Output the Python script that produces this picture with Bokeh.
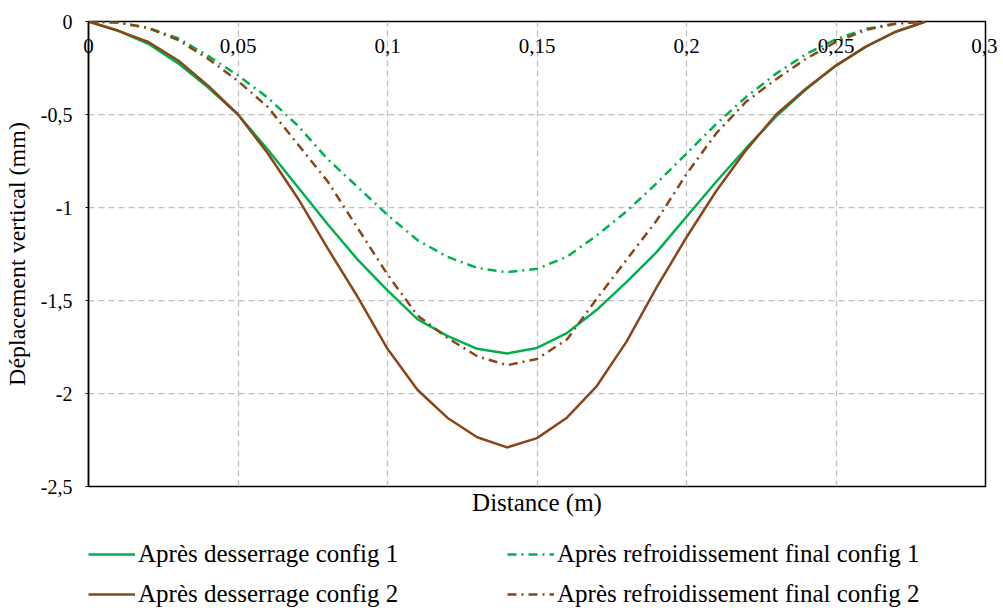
from bokeh.plotting import figure
from bokeh.layouts import column
from bokeh.models import (FixedTicker, LinearAxis, Legend, LegendItem)
from bokeh.embed import file_html
from bokeh.resources import INLINE

# ---- data ----
distance = [0, 0.01, 0.02, 0.03, 0.04, 0.05, 0.06, 0.07, 0.08, 0.09, 0.10,
            0.11, 0.12, 0.13, 0.14, 0.15, 0.16, 0.17, 0.18, 0.19, 0.20,
            0.21, 0.22, 0.23, 0.24, 0.25, 0.26, 0.27, 0.28]

desserrage_c1 = [0, -0.05, -0.12, -0.225, -0.355, -0.50, -0.69, -0.89, -1.09, -1.28, -1.446,
                 -1.60, -1.69, -1.76, -1.785, -1.755, -1.675, -1.55, -1.40, -1.24, -1.05,
                 -0.86, -0.68, -0.51, -0.365, -0.237, -0.135, -0.055, 0]
desserrage_c2 = [0, -0.05, -0.11, -0.21, -0.345, -0.50, -0.71, -0.95, -1.22, -1.48, -1.76,
                 -1.98, -2.13, -2.235, -2.29, -2.24, -2.13, -1.96, -1.72, -1.43, -1.16,
                 -0.91, -0.69, -0.50, -0.36, -0.237, -0.135, -0.055, 0]
refroid_c1 = [0, -0.005, -0.035, -0.09, -0.185, -0.29, -0.41, -0.56, -0.74, -0.89, -1.04,
              -1.175, -1.265, -1.325, -1.348, -1.33, -1.265, -1.15, -1.02, -0.87, -0.71,
              -0.55, -0.405, -0.28, -0.175, -0.095, -0.04, -0.01, 0]
refroid_c2 = [0, -0.005, -0.035, -0.10, -0.20, -0.32, -0.46, -0.66, -0.86, -1.11, -1.36,
              -1.58, -1.70, -1.80, -1.848, -1.814, -1.71, -1.49, -1.28, -1.07, -0.82,
              -0.60, -0.43, -0.31, -0.20, -0.11, -0.045, -0.012, 0]

x_ticks = [0, 0.05, 0.1, 0.15, 0.2, 0.25, 0.3]
x_tick_labels = ["0", "0,05", "0,1", "0,15", "0,2", "0,25", "0,3"]
y_ticks = [0, -0.5, -1, -1.5, -2, -2.5]
y_tick_labels = ["0", "-0,5", "-1", "-1,5", "-2", "-2,5"]

labels = ["Après desserrage config 1", "Après refroidissement final config 1",
          "Après desserrage config 2", "Après refroidissement final config 2"]
series = [desserrage_c1, refroid_c1, desserrage_c2, refroid_c2]

GREEN = "#00B050"
BROWN = "#8A4519"
FONT = "Liberation Serif"
styles = [dict(line_color=GREEN, line_width=2.5),
          dict(line_color=GREEN, line_width=2.5, line_dash="9 5 2 5"),
          dict(line_color=BROWN, line_width=2.5),
          dict(line_color=BROWN, line_width=2.5, line_dash="9 5 2 5")]

p = figure(frame_width=897, frame_height=465, output_backend="svg", toolbar_location=None,
           x_range=(0, 0.3), y_range=(-2.5, 0),
           min_border_left=77, min_border_right=12, min_border_top=21,
           min_border_bottom=40)
p.background_fill_color = "white"
p.border_fill_color = "white"
p.outline_line_color = "black"
p.outline_line_width = 1.5

# grids
p.xgrid.ticker = FixedTicker(ticks=x_ticks)
p.ygrid.ticker = FixedTicker(ticks=y_ticks)
for g in (p.xgrid[0], p.ygrid[0]):
    g.grid_line_color = "#BFBFBF"
    g.grid_line_dash = "6 4"
    g.grid_line_width = 1.25

# y axis
p.yaxis.ticker = FixedTicker(ticks=y_ticks)
p.yaxis.major_label_overrides = {t: l for t, l in zip(y_ticks, y_tick_labels)}
p.yaxis.minor_tick_line_color = None
p.yaxis.major_tick_in = 0
p.yaxis.major_tick_out = 3
p.yaxis.major_tick_line_color = "black"
p.yaxis.axis_line_color = "black"
p.yaxis.axis_line_width = 1.5
p.yaxis.major_label_standoff = 13
p.yaxis.major_label_text_font = FONT
p.yaxis.major_label_text_font_size = "20px"
p.yaxis.major_label_text_color = "black"
p.yaxis.axis_label = "Déplacement vertical (mm)"
p.yaxis.axis_label_text_font = FONT
p.yaxis.axis_label_text_font_size = "24px"
p.yaxis.axis_label_text_font_style = "normal"
p.yaxis.axis_label_text_color = "black"
p.yaxis.axis_label_standoff = 8

# bottom x axis: title only
p.xaxis.ticker = FixedTicker(ticks=[])
p.xaxis.axis_line_color = None
p.xaxis.major_tick_line_color = None
p.xaxis.minor_tick_line_color = None
p.xaxis.axis_label = "Distance (m)"
p.xaxis.axis_label_text_font = FONT
p.xaxis.axis_label_text_font_size = "25px"
p.xaxis.axis_label_text_font_style = "normal"
p.xaxis.axis_label_text_color = "black"
p.xaxis.axis_label_standoff = 2

# top x axis at y=0 with labels hanging below the line (inside the frame)
top_axis = LinearAxis(ticker=FixedTicker(ticks=x_ticks),
                      major_label_overrides={t: l for t, l in zip(x_ticks, x_tick_labels)},
                      axis_line_color=None, major_tick_line_color=None,
                      minor_tick_line_color=None, major_tick_in=0, major_tick_out=0,
                      major_label_standoff=-31,
                      major_label_text_font=FONT, major_label_text_font_size="21px",
                      major_label_text_color="black",
                      axis_label=" ", axis_label_text_font_size="24px",
                      axis_label_standoff=-4)
p.add_layout(top_axis, "above")

# curves (brown solid drawn last, on top)
for i in [0, 1, 3, 2]:
    p.line(distance, series[i], **styles[i])

# legend figure below the chart (same series, drawn outside its visible range)
p2 = figure(width=989, height=82, output_backend="svg", toolbar_location=None,
            x_range=(0, 0.3), y_range=(1, 2), x_axis_type=None, y_axis_type=None,
            min_border_left=86, min_border_top=14, min_border_right=0, min_border_bottom=0)
p2.outline_line_color = None
p2.grid.visible = False
p2.background_fill_color = "white"
p2.border_fill_color = "white"
items = []
for i in range(4):
    r = p2.line(distance, series[i], **styles[i])
    items.append(LegendItem(label=labels[i], renderers=[r]))

legend = Legend(items=items, location="top_left", orientation="horizontal", ncols=2,
                border_line_color=None, background_fill_alpha=0,
                label_text_font=FONT, label_text_font_size="25px",
                label_text_color="black",
                glyph_width=47, glyph_height=20, label_standoff=3,
                label_height=20, label_width=357, spacing=12, padding=1, margin=0)
p2.add_layout(legend, "center")

layout = column(p, p2, spacing=0)
open("out.html", "w").write(file_html(layout, INLINE))
